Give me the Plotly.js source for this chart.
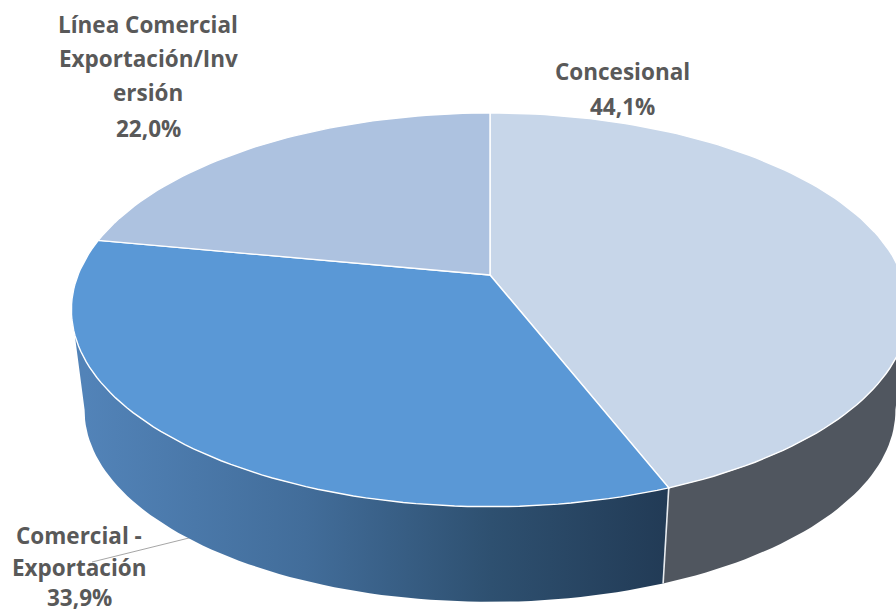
<!DOCTYPE html>
<html>
<head>
<meta charset="utf-8">
<script src="https://cdn.plot.ly/plotly-3.0.1.min.js"></script>
<style>html,body{margin:0;padding:0;background:#fff}#chart{width:896px;height:614px}</style>
</head>
<body>
<div id="chart"></div>
<script>
// Data
const categories = ['Concesional', 'Comercial - Exportación', 'Línea Comercial Exportación/Inversión'];
const shares = [44.1, 33.9, 22.0];
const shareLabels = ['44,1%', '33,9%', '22,0%'];
const topColors = ['#C7D6E9', '#5A98D6', '#ADC2E0'];

// Label lines as wrapped in the picture
const labelLines = [
  ['Concesional', shareLabels[0]],
  ['Comercial -', 'Exportación', shareLabels[1]],
  ['Línea Comercial', 'Exportación/Inv', 'ersión', shareLabels[2]]
];
const labelX = [622, 79, 148];
const labelY = [[71.5, 106.5], [535, 567, 597], [24.5, 58.5, 92.5, 128.5]];

// Tilted-disc projection (plot units are picture pixels)
const topRim = {cx: 490, cy: 275, a: 412, b: 190.7, k: 0.177};
const lowRim = {cx: 490, cy: 376.5, a: 399, b: 185.5, k: 0.177};
const project = (r, deg) => {
  const t = deg * Math.PI / 180, d = 1 + r.k * Math.cos(t);
  return [r.cx + r.a * Math.sin(t) / d, r.cy - r.b * Math.cos(t) / d];
};
const arc = (r, a0, a1) => {
  const n = Math.max(2, Math.ceil(Math.abs(a1 - a0) / 1.5)), out = [];
  for (let i = 0; i <= n; i++) out.push(project(r, a0 + (a1 - a0) * i / n));
  return out;
};

const total = shares.reduce((s, v) => s + v, 0);
const edges = [0];
shares.forEach(v => edges.push(edges[edges.length - 1] + v / total * 360));

const silhouetteA = 100, silhouetteB = 260;   // where the wall leaves the visible outline
const traces = [];
const poly = (pts, extra) => traces.push(Object.assign({
  type: 'scatter', mode: 'lines', x: pts.map(p => p[0]), y: pts.map(p => p[1]),
  fill: 'toself', hoverinfo: 'skip', showlegend: false
}, extra));

// Walls
const wall = (a0, a1) => arc(topRim, a0, a1).concat(arc(lowRim, a1, a0));
poly(wall(silhouetteA, edges[1]), {line: {width: 0}, fillcolor: '#50565F'});
poly(wall(edges[1], silhouetteB), {
  line: {width: 0},
  fillcolor: '#5A98D6',
  fillgradient: {
    type: 'horizontal', start: 85, stop: 665,
    colorscale: [[0, '#5283B8'], [0.38, '#426D9A'], [0.7, '#2E5070'], [1, '#223B56']]
  }
});
// Seam between the two visible walls
const seam = [project(topRim, edges[1]), project(lowRim, edges[1])];
traces.push({type: 'scatter', mode: 'lines', x: seam.map(p => p[0]), y: seam.map(p => p[1]),
  line: {color: '#E8ECF0', width: 1.6}, hoverinfo: 'skip', showlegend: false});

// Top faces
shares.forEach((v, i) => {
  const c = [topRim.cx, topRim.cy];
  poly([c].concat(arc(topRim, edges[i], edges[i + 1])).concat([c]),
    {line: {color: '#FFFFFF', width: 1.4}, fillcolor: topColors[i], name: categories[i]});
});

// Leader line for the second label
const leader = {type: 'line', xref: 'x', yref: 'y', x0: 193, y0: 537, x1: 92, y1: 562,
  line: {color: '#A6A6A6', width: 1}, layer: 'below'};

const annotations = [];
labelLines.forEach((lines, i) => lines.forEach((t, j) => annotations.push({
  x: labelX[i], y: labelY[i][j], xref: 'x', yref: 'y', text: '<b>' + t + '</b>', showarrow: false,
  xanchor: 'center', yanchor: 'middle',
  font: {family: '"Open Sans", "Noto Sans", sans-serif', size: 22.5, color: '#595959'}
})));

Plotly.newPlot('chart', traces, {
  width: 896, height: 614,
  margin: {l: 0, r: 0, t: 0, b: 0},
  paper_bgcolor: '#FFFFFF', plot_bgcolor: '#FFFFFF',
  xaxis: {range: [0, 896], visible: false, fixedrange: true},
  yaxis: {range: [614, 0], visible: false, fixedrange: true},
  showlegend: false, shapes: [leader], annotations
}, {displayModeBar: false, staticPlot: true});
</script>
</body>
</html>
